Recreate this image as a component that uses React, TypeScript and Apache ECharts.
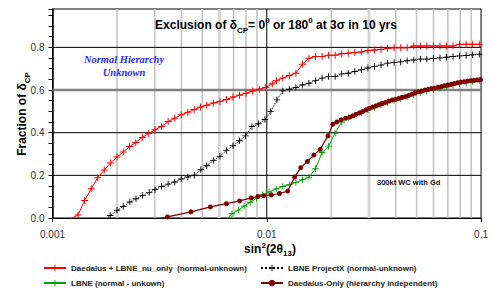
import React, { useEffect, useRef } from 'react';
import * as echarts from 'echarts';

// ---------- data ----------
const redName = 'Daedalus + LBNE_nu_only  (normal-unknown)';
const blackName = 'LBNE ProjectX (normal-unknown)';
const greenName = 'LBNE (normal - unkown)';
const brownName = 'Daedalus-Only (hierarchy independent)';

const redX = [0.00118, 0.001316, 0.001412, 0.001516, 0.001625, 0.001744, 0.001864, 0.002001, 0.002139, 0.002289, 0.002446, 0.002625, 0.002814, 0.003011, 0.003228, 0.003465, 0.00372, 0.003987, 0.00428, 0.004584, 0.004909, 0.005247, 0.005631, 0.006044, 0.00648, 0.006955, 0.007464, 0.008004, 0.00859, 0.00922, 0.009886, 0.01061, 0.0111, 0.01188, 0.01274, 0.01367, 0.01467, 0.01573, 0.01688, 0.01812, 0.01943, 0.02085, 0.02238, 0.024, 0.02576, 0.02764, 0.02964, 0.03181, 0.03414, 0.03661, 0.03929, 0.04217, 0.04521, 0.04853, 0.05208, 0.05584, 0.05993, 0.06432, 0.06896, 0.07401, 0.07943, 0.08517, 0.09141, 0.09811];
const redY = [-0.01, 0.014, 0.082, 0.137, 0.189, 0.225, 0.258, 0.286, 0.309, 0.335, 0.354, 0.378, 0.396, 0.414, 0.429, 0.452, 0.468, 0.484, 0.496, 0.509, 0.52, 0.529, 0.539, 0.546, 0.556, 0.567, 0.576, 0.585, 0.596, 0.604, 0.612, 0.629, 0.644, 0.656, 0.668, 0.679, 0.721, 0.749, 0.757, 0.757, 0.763, 0.763, 0.77, 0.773, 0.776, 0.778, 0.785, 0.788, 0.79, 0.796, 0.798, 0.798, 0.798, 0.807, 0.807, 0.807, 0.807, 0.807, 0.807, 0.807, 0.815, 0.815, 0.815, 0.815];

const blackX = [0.001731, 0.001858, 0.002001, 0.002139, 0.002296, 0.002453, 0.002633, 0.002826, 0.003011, 0.003228, 0.003465, 0.00372, 0.003987, 0.00428, 0.004593, 0.004924, 0.005247, 0.005631, 0.006044, 0.00648, 0.006955, 0.007464, 0.007952, 0.008527, 0.009153, 0.009802, 0.01044, 0.01115, 0.01188, 0.01274, 0.01367, 0.01467, 0.01573, 0.01688, 0.01812, 0.01943, 0.02085, 0.02238, 0.024, 0.02576, 0.02764, 0.02964, 0.03181, 0.03414, 0.03661, 0.03929, 0.04217, 0.04521, 0.04853, 0.05208, 0.05584, 0.05993, 0.06432, 0.06896, 0.07401, 0.07943, 0.08517, 0.09141, 0.09811];
const blackY = [-0.015, 0.012, 0.036, 0.054, 0.075, 0.09, 0.106, 0.12, 0.134, 0.148, 0.159, 0.169, 0.183, 0.192, 0.201, 0.226, 0.245, 0.27, 0.289, 0.317, 0.339, 0.362, 0.385, 0.429, 0.442, 0.462, 0.499, 0.554, 0.596, 0.604, 0.612, 0.624, 0.632, 0.644, 0.656, 0.663, 0.663, 0.676, 0.679, 0.687, 0.695, 0.703, 0.71, 0.717, 0.726, 0.729, 0.732, 0.737, 0.741, 0.745, 0.745, 0.748, 0.751, 0.754, 0.757, 0.76, 0.762, 0.765, 0.768];

const greenX = [0.0064, 0.006882, 0.00737, 0.007836, 0.008366, 0.00896, 0.009545, 0.01025, 0.01107, 0.01188, 0.01274, 0.01367, 0.01467, 0.01573, 0.01688, 0.01812, 0.01943, 0.02085, 0.02238, 0.024, 0.02576, 0.02764, 0.02964, 0.03181, 0.03414, 0.03661, 0.03929, 0.04217, 0.04521, 0.04853, 0.05208, 0.05584, 0.05993, 0.06432, 0.06896, 0.07401, 0.07943, 0.08517, 0.09141, 0.09811];
const greenY = [-0.012, 0.02, 0.037, 0.055, 0.074, 0.093, 0.109, 0.122, 0.136, 0.148, 0.156, 0.167, 0.179, 0.191, 0.231, 0.307, 0.337, 0.398, 0.45, 0.471, 0.482, 0.493, 0.507, 0.519, 0.531, 0.542, 0.552, 0.56, 0.568, 0.577, 0.587, 0.596, 0.603, 0.608, 0.615, 0.622, 0.629, 0.634, 0.638, 0.643];

const brownX = [0.00267, 0.00344, 0.00443, 0.005455, 0.00648, 0.007464, 0.00847, 0.009085, 0.009678, 0.0105, 0.01146, 0.01252, 0.01349, 0.01441, 0.01547, 0.01658, 0.01774, 0.0193, 0.02035, 0.02123, 0.02222, 0.02335, 0.02443, 0.02521, 0.02611, 0.02707, 0.02802, 0.02901, 0.03007, 0.03114, 0.03225, 0.03343, 0.03461, 0.03584, 0.03714, 0.03846, 0.03983, 0.04128, 0.04275, 0.04426, 0.04588, 0.04751, 0.04919, 0.05099, 0.0528, 0.05466, 0.05667, 0.05868, 0.06075, 0.06299, 0.06521, 0.06752, 0.06999, 0.07248, 0.07504, 0.07778, 0.08054, 0.08339, 0.08644, 0.08952, 0.09268, 0.09606, 0.09947];
const brownY = [-0.02, 0.005, 0.029, 0.052, 0.067, 0.08, 0.094, 0.101, 0.104, 0.108, 0.115, 0.126, 0.192, 0.236, 0.265, 0.295, 0.322, 0.385, 0.44, 0.45, 0.46, 0.468, 0.473, 0.479, 0.486, 0.493, 0.499, 0.507, 0.514, 0.52, 0.525, 0.531, 0.537, 0.542, 0.548, 0.553, 0.556, 0.561, 0.565, 0.569, 0.574, 0.58, 0.587, 0.592, 0.595, 0.6, 0.603, 0.607, 0.609, 0.613, 0.616, 0.62, 0.623, 0.627, 0.63, 0.634, 0.637, 0.639, 0.642, 0.644, 0.645, 0.647, 0.649];

const xTickLabels = ['0.001', '0.01', '0.1'];
const yTickValues = [0, 0.2, 0.4, 0.6, 0.8];
const yTickLabels = ['0.0', '0.2', '0.4', '0.6', '0.8'];

const minorGridX = [0.002, 0.003, 0.004, 0.005, 0.007, 0.008, 0.009, 0.02, 0.04, 0.05, 0.06, 0.07, 0.08, 0.09];
const wideGridX = [0.006, 0.03];
const majorGridX = [0.01];
const blackGridY = [0.2, 0.4, 0.8];
const grayGridY = [0.6];

// ---------- helpers ----------
const zip = (xs: number[], ys: number[]) => xs.map((x, i) => [x, ys[i]]);
const FONT = '"Liberation Sans", Arial, sans-serif';
const CROSS = 'path://M4.3,0H5.7V4.3H10V5.7H5.7V10H4.3V5.7H0V4.3H4.3Z';

function gridSeries(values: number[], vertical: boolean, color: string, width: number, z: number) {
  return {
    type: 'custom',
    silent: true,
    z,
    data: values.map((v) => (vertical ? [v, 0.5] : [0.01, v])),
    renderItem: (params: any, api: any) => {
      const cs = params.coordSys;
      const p = api.coord([api.value(0), api.value(1)]);
      const shape = vertical
        ? { x1: p[0], y1: cs.y, x2: p[0], y2: cs.y + cs.height }
        : { x1: cs.x, y1: p[1], x2: cs.x + cs.width, y2: p[1] };
      return { type: 'line', shape, style: { stroke: color, lineWidth: width, fill: 'none' } };
    },
  };
}

export default function App() {
  const ref = useRef<HTMLDivElement>(null);

  useEffect(() => {
    if (!ref.current) return;
    const chart = echarts.init(ref.current, undefined, { renderer: 'svg' });

    const bold = { fontFamily: FONT, fontWeight: 'bold' as const, color: '#000' };

    const legendBase = {
      orient: 'horizontal',
      padding: 0,
      itemWidth: 22,
      itemHeight: 8,
      itemGap: 0,
      selectedMode: false,
      textStyle: { fontFamily: FONT, fontSize: 8, fontWeight: 'bold', color: '#222' },
    };

    chart.setOption({
      animation: false,
      backgroundColor: '#fff',
      grid: {
        left: 52.5,
        right: 3,
        top: 9,
        bottom: 75,
        show: true,
        borderColor: '#000',
        borderWidth: 1,
        backgroundColor: '#fff',
        containLabel: false,
      },
      xAxis: {
        type: 'log',
        logBase: 10,
        min: 0.001,
        max: 0.1,
        axisLine: { show: true, lineStyle: { color: '#000', width: 1 } },
        axisTick: { show: true, inside: false, length: 4, lineStyle: { color: '#000' } },
        splitLine: { show: false },
        axisLabel: {
          fontFamily: FONT,
          fontSize: 10,
          color: '#333',
          margin: 11,
          formatter: (_v: number, i: number) => xTickLabels[i] ?? '',
        },
      },
      yAxis: {
        type: 'value',
        min: 0,
        max: 0.98,
        interval: 0.05,
        axisLine: { show: true, lineStyle: { color: '#000', width: 1.5 } },
        axisTick: { show: true, inside: false, length: 4, lineStyle: { color: '#000' } },
        splitLine: { show: false },
        axisLabel: {
          fontFamily: FONT,
          fontSize: 10,
          color: '#333',
          margin: 8,
          formatter: (v: number) => {
            const idx = yTickValues.findIndex((t) => Math.abs(t - v) < 1e-6);
            return idx >= 0 ? yTickLabels[idx] : '';
          },
        },
      },
      legend: [
        { ...legendBase, data: [redName], left: 43, top: 264 },
        { ...legendBase, data: [blackName], left: 260, top: 264 },
        { ...legendBase, data: [greenName], left: 43, top: 279 },
        { ...legendBase, data: [brownName], left: 260, top: 279 },
      ],
      graphic: [
        {
          type: 'text',
          x: 276,
          y: 25,
          z: 100,
          style: {
            text: '{b|Exclusion of δ}{sub|CP}{b|= 0}{sup|0}{b| or 180}{sup|0}{b| at 3σ in 10 yrs}',
            align: 'center',
            textAlign: 'center',
            verticalAlign: 'middle',
            textVerticalAlign: 'middle',
            rich: {
              b: { ...bold, fontSize: 12, lineHeight: 18 },
              sub: { ...bold, fontSize: 8, lineHeight: 10, verticalAlign: 'bottom' },
              sup: { ...bold, fontSize: 8, lineHeight: 10, verticalAlign: 'top' },
            },
          },
        },
        {
          type: 'text',
          x: 270,
          y: 249,
          z: 100,
          style: {
            text: '{b|sin}{sup|2}{b|(2θ}{sub|13}{b|)}',
            align: 'center',
            textAlign: 'center',
            verticalAlign: 'middle',
            textVerticalAlign: 'middle',
            rich: {
              b: { ...bold, fontSize: 12, lineHeight: 16 },
              sub: { ...bold, fontSize: 8, lineHeight: 9, verticalAlign: 'bottom' },
              sup: { ...bold, fontSize: 8, lineHeight: 9, verticalAlign: 'top' },
            },
          },
        },
        {
          type: 'text',
          x: 22,
          y: 114,
          rotation: Math.PI / 2,
          z: 100,
          style: {
            text: '{b|Fraction of δ}{sub|CP}',
            align: 'center',
            textAlign: 'center',
            verticalAlign: 'middle',
            textVerticalAlign: 'middle',
            rich: {
              b: { ...bold, fontSize: 12, lineHeight: 18 },
              sub: { ...bold, fontSize: 8, lineHeight: 10, verticalAlign: 'bottom' },
            },
          },
        },
        {
          type: 'text',
          x: 124,
          y: 65.5,
          z: 100,
          style: {
            text: 'Normal Hierarchy\nUnknown',
            align: 'center',
            textAlign: 'center',
            verticalAlign: 'middle',
            textVerticalAlign: 'middle',
            fontFamily: '"Liberation Serif", "Times New Roman", serif',
            fontStyle: 'italic',
            fontWeight: 'bold',
            fontSize: 10.5,
            lineHeight: 13,
            fill: '#2a2aff',
          },
        },
        {
          type: 'text',
          x: 377,
          y: 182,
          z: 100,
          style: {
            text: '300kt WC with Gd',
            align: 'left',
            textAlign: 'left',
            verticalAlign: 'middle',
            textVerticalAlign: 'middle',
            fontFamily: FONT,
            fontWeight: 'bold',
            fontSize: 7.5,
            fill: '#111',
          },
        },
      ],
      series: [
        gridSeries(minorGridX, true, '#c4c4c4', 1.6, 1),
        gridSeries(wideGridX, true, '#d6d6d6', 3, 1),
        gridSeries(majorGridX, true, '#000', 1, 2),
        gridSeries(blackGridY, false, '#000', 1, 2),
        gridSeries(grayGridY, false, '#808080', 2.6, 2),
        {
          name: greenName,
          type: 'line',
          data: zip(greenX, greenY),
          clip: true,
          symbol: CROSS,
          symbolSize: 6.5,
          lineStyle: { color: '#00a000', width: 1 },
          itemStyle: { color: '#00a000' },
          z: 3,
        },
        {
          name: brownName,
          type: 'line',
          data: zip(brownX, brownY),
          clip: true,
          symbol: 'circle',
          symbolSize: 5,
          lineStyle: { color: '#800000', width: 1.2 },
          itemStyle: { color: '#800000' },
          z: 4,
        },
        {
          name: blackName,
          type: 'line',
          data: zip(blackX, blackY),
          clip: true,
          symbol: CROSS,
          symbolSize: 6.5,
          lineStyle: { color: '#000', width: 1, type: 'dotted' },
          itemStyle: { color: '#000' },
          z: 5,
        },
        {
          name: redName,
          type: 'line',
          data: zip(redX, redY),
          clip: true,
          symbol: CROSS,
          symbolSize: 7,
          lineStyle: { color: '#ff0000', width: 1 },
          itemStyle: { color: '#ff0000' },
          z: 6,
        },
      ],
    });

    return () => chart.dispose();
  }, []);

  return (
    <div
      ref={ref}
      style={{ position: 'fixed', left: 0, top: 0, width: 491, height: 293, background: '#fff' }}
    />
  );
}
